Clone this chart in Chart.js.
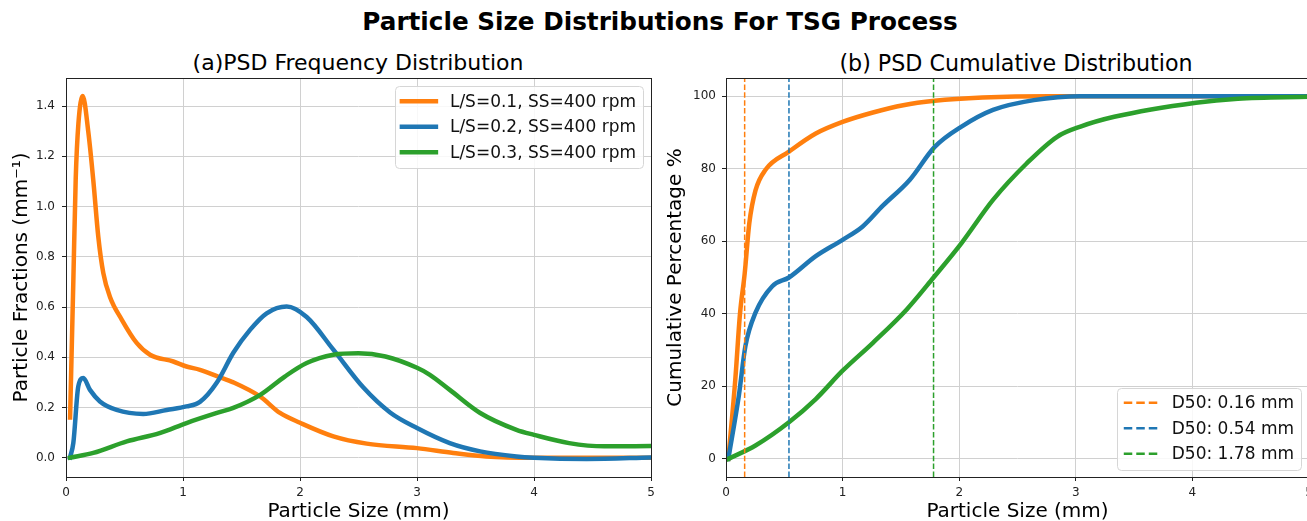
<!DOCTYPE html>
<html>
<head>
<meta charset="utf-8">
<script src="https://cdn.jsdelivr.net/npm/chart.js@4.4.1/dist/chart.umd.min.js"></script>
<style>
    html, body { margin: 0; padding: 0; background: #fff; overflow: hidden; width: 1307px; height: 521px; }
    body { position: relative; font-family: "DejaVu Sans", sans-serif; color: #000; }
    .title { position: absolute; white-space: nowrap; transform: translateX(-50%); line-height: 1; }
    #main-title { left: 660px; top: 10px; font-size: 24.7px; font-weight: bold; }
    #title-a { left: 358px; top: 52px; font-size: 22px; }
    #title-b { left: 1016px; top: 52px; font-size: 22.2px; }
    canvas { position: absolute; top: 70px; }
    #freqChart { left: 0; }
    #cumChart { left: 660px; }
</style>
</head>
<body>
<div class="title" id="main-title">Particle Size Distributions For TSG Process</div>
<div class="title" id="title-a">(a)PSD Frequency Distribution</div>
<div class="title" id="title-b">(b) PSD Cumulative Distribution</div>
<canvas id="freqChart" width="660" height="451"></canvas>
<canvas id="cumChart" width="660" height="451"></canvas>

<script>
// series labels
const seriesLabels = ['L/S=0.1, SS=400 rpm', 'L/S=0.2, SS=400 rpm', 'L/S=0.3, SS=400 rpm'];
const seriesColors = ['#ff7f0e', '#1f77b4', '#2ca02c'];

// (a) frequency distribution
const freqX1 = [0.035, 0.063, 0.083, 0.106, 0.143, 0.19, 0.233, 0.276, 0.319, 0.376, 0.476, 0.604, 0.718, 0.917, 1.03, 1.145, 1.30, 1.43, 1.658, 1.829, 2.0, 2.285, 2.57, 3.0, 3.31, 3.59, 4.0, 4.5, 5.0];
const freqY1 = [0.16, 0.71, 1.11, 1.33, 1.44, 1.30, 1.106, 0.88, 0.735, 0.64, 0.55, 0.457, 0.41, 0.383, 0.363, 0.35, 0.323, 0.30, 0.244, 0.178, 0.139, 0.085, 0.056, 0.038, 0.019, 0.005, 0.0, 0.0, 0.0];
const freqX2 = [0.034, 0.063, 0.105, 0.148, 0.205, 0.29, 0.433, 0.66, 0.86, 1.03, 1.145, 1.288, 1.43, 1.573, 1.715, 1.886, 2.057, 2.285, 2.54, 2.77, 3.0, 3.28, 3.54, 3.85, 4.0, 4.45, 5.0];
const freqY2 = [0.0, 0.06, 0.284, 0.317, 0.27, 0.224, 0.19, 0.174, 0.19, 0.204, 0.222, 0.298, 0.418, 0.509, 0.575, 0.602, 0.56, 0.43, 0.28, 0.18, 0.118, 0.058, 0.025, 0.005, 0.0, -0.005, 0.001];
const freqX3 = [0.034, 0.233, 0.52, 0.80, 1.03, 1.29, 1.43, 1.66, 1.87, 2.057, 2.285, 2.50, 2.73, 3.0, 3.11, 3.28, 3.54, 3.85, 4.0, 4.3, 4.6, 5.0];
const freqY3 = [0.0, 0.019, 0.065, 0.098, 0.138, 0.178, 0.198, 0.25, 0.323, 0.377, 0.41, 0.416, 0.403, 0.358, 0.33, 0.27, 0.178, 0.111, 0.091, 0.058, 0.045, 0.046];

// (b) cumulative distribution
const cumX1 = [0.02, 0.08, 0.12, 0.16, 0.2, 0.253, 0.339, 0.54, 0.77, 1.0, 1.26, 1.52, 1.79, 2.2, 2.78, 3.5, 5.0];
const cumY1 = [0, 22, 40, 51, 65, 74, 79.7, 84.7, 89.7, 92.9, 95.5, 97.5, 98.7, 99.6, 100, 100, 100];
const cumX2 = [0.02, 0.11, 0.166, 0.253, 0.397, 0.54, 0.77, 1.0, 1.17, 1.345, 1.575, 1.79, 2.02, 2.29, 2.64, 3.04, 4.0, 5.0];
const cumY2 = [0, 17.4, 31, 40.3, 47.6, 50, 55.9, 60.4, 64, 69.8, 76.9, 86, 91.6, 96.2, 98.9, 100, 100, 100];
const cumX3 = [0.02, 0.253, 0.54, 0.77, 1.0, 1.26, 1.55, 1.78, 2.02, 2.29, 2.58, 2.84, 3.04, 3.33, 4.03, 4.39, 5.0];
const cumY3 = [0, 3.7, 10.1, 16.5, 24.3, 32, 41.2, 50, 59.5, 71.4, 81.5, 88.8, 91.6, 94.3, 98.2, 99.3, 99.8];

// D50 values (mm)
const d50Values = [0.16, 0.54, 1.78];

// axes
const xRange = [0, 5];
const xTicks = [0, 1, 2, 3, 4, 5];
const freqYRange = [-0.077, 1.512];
const freqYTicks = [0, 0.2, 0.4, 0.6, 0.8, 1.0, 1.2, 1.4];
const cumYRange = [-5, 105];
const cumYTicks = [0, 20, 40, 60, 80, 100];

Chart.defaults.font.family = '"DejaVu Sans", sans-serif';
Chart.defaults.color = '#222';

function toPoints(xs, ys) {
    return xs.map((x, i) => ({ x: x, y: ys[i] }));
}

// box round the plot area, like matplotlib spines
const framePlugin = {
    id: 'frame',
    afterDatasetsDraw(chart) {
        const { ctx, chartArea: a } = chart;
        ctx.save();
        ctx.strokeStyle = '#222';
        ctx.lineWidth = 1;
        ctx.strokeRect(Math.round(a.left) + 0.5, Math.round(a.top) + 0.5,
            Math.round(a.right - a.left), Math.round(a.bottom - a.top));
        ctx.restore();
    }
};

// legend inside the plot area with a rounded box
const boxLegendPlugin = {
    id: 'boxLegend',
    afterDraw(chart, args, opts) {
        const items = chart.data.datasets.filter(d => d.inLegend);
        if (!items.length) return;
        const { ctx, chartArea: a } = chart;
        ctx.save();
        ctx.font = opts.fontSize + 'px "DejaVu Sans"';
        const textW = Math.max(...items.map(d => ctx.measureText(d.label).width));
        const w = opts.padX * 2 + opts.lineLen + opts.gap + textW;
        const h = opts.padY * 2 + items.length * opts.rowH;
        const x = a.right - opts.margin - w;
        const y = opts.corner === 'top' ? a.top + opts.margin : a.bottom - opts.margin - h;
        ctx.beginPath();
        ctx.roundRect(Math.round(x) + 0.5, Math.round(y) + 0.5, Math.round(w), Math.round(h), 4);
        ctx.fillStyle = 'rgba(255,255,255,0.85)';
        ctx.fill();
        ctx.strokeStyle = '#d6d6d6';
        ctx.lineWidth = 1;
        ctx.stroke();
        items.forEach((d, i) => {
            const cy = y + opts.padY + opts.rowH * (i + 0.5);
            ctx.beginPath();
            ctx.setLineDash(d.legendDash || []);
            ctx.lineCap = d.legendDash ? 'butt' : 'square';
            ctx.lineWidth = d.legendWidth || d.borderWidth;
            ctx.strokeStyle = d.borderColor;
            ctx.moveTo(x + opts.padX, cy);
            ctx.lineTo(x + opts.padX + opts.lineLen, cy);
            ctx.stroke();
            ctx.setLineDash([]);
            ctx.fillStyle = '#111';
            ctx.textBaseline = 'middle';
            ctx.fillText(d.label, x + opts.padX + opts.lineLen + opts.gap, cy + 1);
        });
        ctx.restore();
    }
};

function makeScales(yRange, yTicks, yFmt, yTitle, yTitlePad, yTickPad) {
    return {
        x: {
            type: 'linear',
            min: xRange[0],
            max: xRange[1],
            afterBuildTicks: s => { s.ticks = xTicks.map(v => ({ value: v })); },
            afterFit: s => { s.height = 44; s.paddingLeft = 0; s.paddingRight = 0; },
            ticks: { font: { size: 12 }, color: '#222', padding: 5, maxRotation: 0, callback: v => String(v) },
            grid: { color: '#d0d0d0', lineWidth: 1, tickColor: '#222', tickLength: 4 },
            border: { display: false },
            title: { display: true, text: 'Particle Size (mm)', color: '#000', font: { size: 20, lineHeight: 1 }, padding: { top: 0, bottom: -1 } }
        },
        y: {
            type: 'linear',
            min: yRange[0],
            max: yRange[1],
            afterBuildTicks: s => { s.ticks = yTicks.map(v => ({ value: v })); },
            afterFit: s => { s.width = 66; s.paddingTop = 0; s.paddingBottom = 0; },
            ticks: { font: { size: 12 }, color: '#222', padding: yTickPad, callback: yFmt },
            grid: { color: '#d0d0d0', lineWidth: 1, tickColor: '#222', tickLength: 4 },
            border: { display: false },
            title: { display: true, text: yTitle, color: '#000', font: { size: 20, lineHeight: 1.2 }, padding: { top: yTitlePad, bottom: 0 } }
        }
    };
}

// (a) frequency chart
const freqSeries = [[freqX1, freqY1], [freqX2, freqY2], [freqX3, freqY3]];
new Chart(document.getElementById('freqChart'), {
    type: 'line',
    data: {
        datasets: freqSeries.map((s, i) => ({
            label: seriesLabels[i],
            data: toPoints(s[0], s[1]),
            borderColor: seriesColors[i],
            borderWidth: 4.5,
            borderCapStyle: 'square',
            pointRadius: 0,
            cubicInterpolationMode: 'monotone',
            order: 3 - i,
            inLegend: true,
            legendWidth: 4.5
        }))
    },
    options: {
        responsive: false,
        animation: false,
        layout: { padding: { top: 8, right: 9, left: 0, bottom: 0 } },
        plugins: {
            legend: { display: false },
            tooltip: { enabled: false },
            boxLegend: { corner: 'top', margin: 8, padX: 7, padY: 2.5, rowH: 25.5, lineLen: 34, gap: 14, fontSize: 17 }
        },
        scales: makeScales(freqYRange, freqYTicks, v => v.toFixed(1), 'Particle Fractions (mm\u207B\u00B9)', 9.5, 7)
    },
    plugins: [framePlugin, boxLegendPlugin]
});

// (b) cumulative chart
const cumSeries = [[cumX1, cumY1], [cumX2, cumY2], [cumX3, cumY3]];
const cumDatasets = cumSeries.map((s, i) => ({
    label: seriesLabels[i],
    data: toPoints(s[0], s[1]),
    borderColor: seriesColors[i],
    borderWidth: 4.5,
    borderCapStyle: 'square',
    pointRadius: 0,
    cubicInterpolationMode: 'monotone',
    order: 3 - i + 3
}));
d50Values.forEach((d, i) => {
    cumDatasets.push({
        label: 'D50: ' + d.toFixed(2) + ' mm',
        data: [{ x: d, y: cumYRange[0] }, { x: d, y: cumYRange[1] }],
        borderColor: seriesColors[i],
        borderWidth: 1.5,
        borderDash: [5.5, 2.4],
        pointRadius: 0,
        tension: 0,
        order: 0,
        inLegend: true,
        legendWidth: 2.5,
        legendDash: [8.5, 4]
    });
});
new Chart(document.getElementById('cumChart'), {
    type: 'line',
    data: { datasets: cumDatasets },
    options: {
        responsive: false,
        animation: false,
        layout: { padding: { top: 8, right: 11, left: 0, bottom: 0 } },
        plugins: {
            legend: { display: false },
            tooltip: { enabled: false },
            boxLegend: { corner: 'bottom', margin: 8, padX: 7, padY: 2.5, rowH: 25.5, lineLen: 34, gap: 14, fontSize: 17 }
        },
        scales: makeScales(cumYRange, cumYTicks, v => String(v), 'Cumulative Percentage %', 3.5, 6)
    },
    plugins: [framePlugin, boxLegendPlugin]
});
</script>
</body>
</html>
